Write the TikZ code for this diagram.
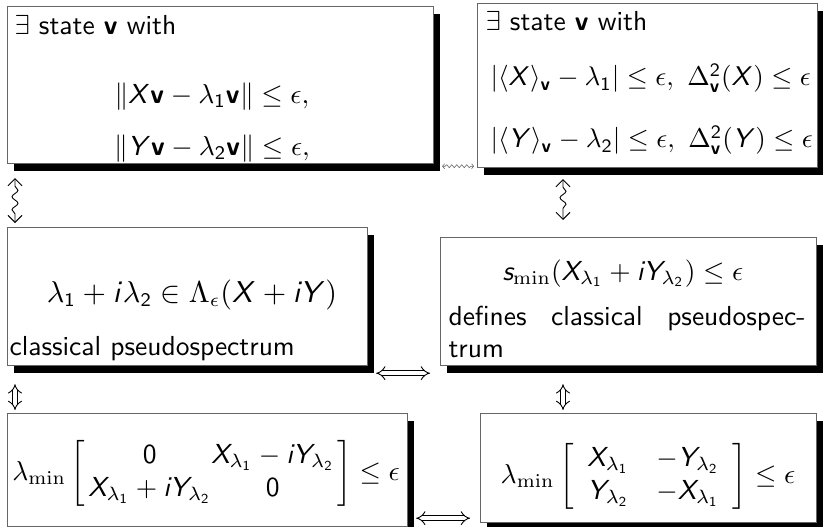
\documentclass[tikz,border=0pt]{standalone}
\usepackage{amsmath}
\usetikzlibrary{shadows,decorations.pathmorphing,arrows.meta}
\DeclareSymbolFont{sfup}{OT1}{cmss}{m}{n}
\DeclareSymbolFont{sfit}{OT1}{cmss}{m}{sl}
\DeclareMathAlphabet{\mathsfbf}{OT1}{cmss}{bx}{n}
\DeclareMathSymbol{0}{\mathalpha}{sfup}{`0}
\DeclareMathSymbol{1}{\mathalpha}{sfup}{`1}
\DeclareMathSymbol{2}{\mathalpha}{sfup}{`2}
\DeclareMathSymbol{X}{\mathalpha}{sfit}{`X}
\DeclareMathSymbol{Y}{\mathalpha}{sfit}{`Y}
\DeclareMathSymbol{i}{\mathalpha}{sfit}{`i}
\DeclareMathSymbol{s}{\mathalpha}{sfit}{`s}
\newcommand\bv{\mathsfbf{v}}
\newcommand\Xl{X_{\lambda_1}}
\newcommand\Yl{Y_{\lambda_2}}
\begin{document}
\begin{tikzpicture}[x=1pt,y=-1pt,
  font=\sffamily,
  box/.style={draw=black!60, line width=1.2pt, fill=white, inner sep=0pt, anchor=north west,
    general shadow={fill=black, shadow xshift=6pt, shadow yshift=-7pt}},
  txt/.style={inner sep=0pt, anchor=base west, scale=2.75},
  eq/.style={inner sep=0pt, anchor=base, scale=2.75},
  dbl/.style={double, double distance=4pt, line width=0.9pt, {Implies}-{Implies}},
  squig/.style={decorate, decoration={snake, amplitude=3pt, segment length=13pt, pre length=8pt, post length=8pt},
    line width=0.9pt, {Straight Barb[length=7pt,width=14pt]}-{Straight Barb[length=7pt,width=14pt]}},
  smallsquig/.style={decorate, decoration={snake, amplitude=1.5pt, segment length=5pt, pre length=3pt, post length=3pt},
    line width=0.6pt, draw=black!60, {Straight Barb[length=2pt,width=5pt]}-{Straight Barb[length=2pt,width=5pt]}}]
\useasboundingbox (0,0) rectangle (823,527);
% boxes
\node[box, minimum width=426pt, minimum height=157pt] (b1) at (7,6) {};
\node[box, minimum width=340pt, minimum height=164pt] (b2) at (477,3) {};
\node[box, minimum width=360pt, minimum height=138pt] (ml) at (7,227) {};
\node[box, minimum width=376pt, minimum height=128pt] (mr) at (440,237) {};
\node[box, minimum width=400pt, minimum height=113pt] (bl) at (7,413) {};
\node[box, minimum width=336pt, minimum height=109pt] (br) at (480,413) {};
% texts
\node[txt] (b1t) at (14,35) {$\exists$ state \textbf{v} with};
\node[eq] (b1a) at (212,103) {$\|X\bv-\lambda_1\bv\|\le\epsilon,$};
\node[eq] (b1b) at (212,155) {$\|Y\bv-\lambda_2\bv\|\le\epsilon,$};
\node[txt] (b2t) at (485,31) {$\exists$ state \textbf{v} with};
\node[txt, scale=2.7/2.75] (b2a) at (490,86) {$|\langle X\rangle_{\bv}-\lambda_1|\le\epsilon,\ \Delta^2_{\bv}(X)\le\epsilon$};
\node[txt, scale=2.7/2.75] (b2b) at (490,148) {$|\langle Y\rangle_{\bv}-\lambda_2|\le\epsilon,\ \Delta^2_{\bv}(Y)\le\epsilon$};
\node[eq, font=\fontsize{10.5}{13}\selectfont] (mlf) at (192,302) {$\lambda_1+i\lambda_2\in\Lambda_\epsilon(X+iY)$};
\node[txt] (mlt) at (9,355) {classical pseudospectrum};
\node[eq, font=\fontsize{9.6}{12}\selectfont] (mrf) at (623,280) {$s_{\min}(\Xl+i\Yl)\le\epsilon$};
\node[txt] (mrt) at (448,325) {\makebox[129.8pt][s]{defines classical pseudospec-}};
\node[txt] (mrt2) at (448,357) {trum};
\node[eq, font=\fontsize{9.7}{12}\selectfont] (blf) at (206,480) {$\lambda_{\min}\left[\mkern2mu\begin{array}{@{}c@{}c@{}}0 & \Xl-i\Yl\\ \Xl+i\Yl & 0\end{array}\mkern2mu\right]\le\epsilon$};
\node[eq] (brf) at (648,483) {$\lambda_{\min}\left[\begin{array}{cc}\Xl & -\Yl\\ \Yl & -\Xl\end{array}\right]\le\epsilon$};
% connectors
\draw[smallsquig] ([xshift=8pt,yshift=-2pt]b1.south east) -- ([xshift=-3pt,yshift=2pt]b2.south west);
\draw[squig] ([xshift=8pt,yshift=-14pt]b1.south west) -- ([xshift=8pt,yshift=4pt]ml.north west);
\draw[squig] ([xshift=86pt,yshift=-11pt]b2.south west) -- ([xshift=123pt,yshift=17pt]mr.north west);
\draw[dbl] ([xshift=8pt,yshift=-7pt]ml.south east) -- ([xshift=-10pt,yshift=-7pt]mr.south west);
\draw[dbl] ([xshift=8pt,yshift=9pt]bl.south east) -- ([xshift=-10pt,yshift=5pt]br.south west);
\draw[dbl] ([xshift=8pt,yshift=-18pt]ml.south west) -- ([xshift=8pt,yshift=3pt]bl.north west);
\draw[dbl] ([xshift=123pt,yshift=-18pt]mr.south west) -- ([xshift=83pt,yshift=3pt]br.north west);
\end{tikzpicture}
\end{document}
